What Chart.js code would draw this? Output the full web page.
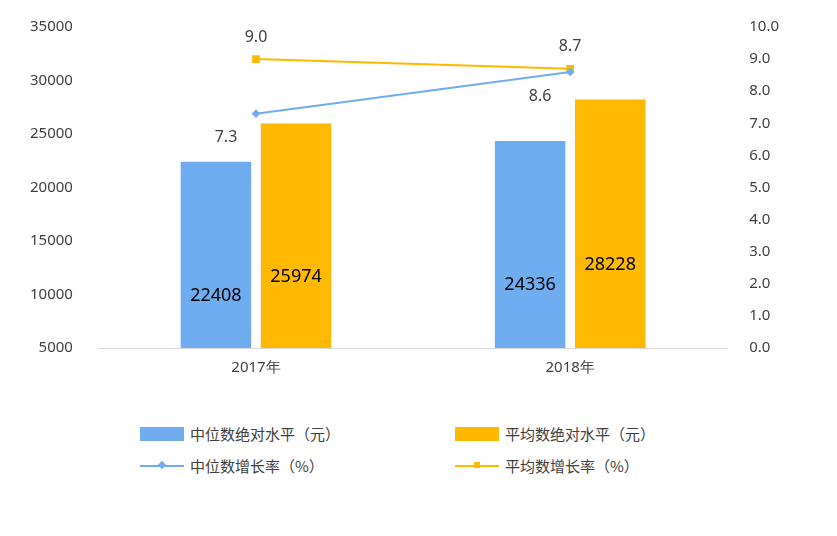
<!DOCTYPE html>
<html><head><meta charset="utf-8">
<script src="https://cdn.jsdelivr.net/npm/chart.js@4"></script>
<style>
body{margin:0;background:#fff;font-family:"Noto Sans CJK SC",sans-serif;}
#wrap{position:relative;width:837px;height:400px;}
.lg{position:absolute;font-size:15px;color:#404040;display:flex;align-items:center;}
.box{width:44px;height:14px;margin-right:6px;}
.ln{width:44px;height:2px;margin-right:6px;position:relative;}
.ln i{position:absolute;left:19px;top:-3px;width:6px;height:6px;}
</style></head><body>
<div id="wrap"><canvas id="c" width="837" height="400"></canvas></div>
<div class="lg" style="left:140px;top:423px"><div class="box" style="background:#70adf0"></div>中位数绝对水平（元）</div>
<div class="lg" style="left:455px;top:423px"><div class="box" style="background:#ffb900"></div>平均数绝对水平（元）</div>
<div class="lg" style="left:140px;top:455px"><div class="ln" style="background:#70adf0"><i style="background:#70adf0;transform:rotate(45deg)"></i></div>中位数增长率（%）</div>
<div class="lg" style="left:455px;top:455px"><div class="ln" style="background:#ffb900"><i style="background:#ffb900"></i></div>平均数增长率（%）</div>
<script>
const years = ["2017年", "2018年"];
const medianLevel = [22408, 24336];
const meanLevel = [25974, 28228];
const medianRate = [7.3, 8.6];
const meanRate = [9.0, 8.7];

const labelPlugin = {
  id: "labels",
  afterDatasetsDraw(ch){
    const ctx = ch.ctx;
    ctx.save();
    ctx.font = "18px 'Noto Sans', sans-serif";
    ctx.fillStyle = "#000";
    ctx.textAlign = "center";
    ctx.textBaseline = "middle";
    [0,1].forEach(d => {
      ch.getDatasetMeta(d).data.forEach((b,i) => {
        const v = ch.data.datasets[d].data[i];
        ctx.fillText(v, b.x, (b.y + b.base)/2 + 14);
      });
    });
    ctx.font = "16px 'Noto Sans', sans-serif";
    ctx.fillStyle = "#404040";
    ch.getDatasetMeta(2).data.forEach((p,i) => {
      ctx.fillText(medianRate[i].toFixed(1), p.x - 30, p.y + 24);
    });
    ch.getDatasetMeta(3).data.forEach((p,i) => {
      ctx.fillText(meanRate[i].toFixed(1), p.x, p.y - 22);
    });
    ctx.restore();
  }
};

const tickFont = {family:"'Noto Sans', sans-serif", size:15};
new Chart(document.getElementById("c"), {
  data:{
    labels: years,
    datasets:[
      {type:"bar", data:medianLevel, backgroundColor:"#70adf0", yAxisID:"y", barPercentage:0.88, categoryPercentage:0.51, order:2},
      {type:"bar", data:meanLevel, backgroundColor:"#ffb900", yAxisID:"y", barPercentage:0.88, categoryPercentage:0.51, order:2},
      {type:"line", data:medianRate, borderColor:"#70adf0", backgroundColor:"#70adf0", pointStyle:"rectRot", pointRadius:3, borderWidth:2, yAxisID:"y1", order:1},
      {type:"line", data:meanRate, borderColor:"#ffb900", backgroundColor:"#ffb900", pointStyle:"rect", pointRadius:4, borderWidth:2, yAxisID:"y1", order:1}
    ]
  },
  options:{
    responsive:false, animation:false,
    layout:{padding:{left:12, right:44, top:26, bottom:20}},
    plugins:{legend:{display:false}, tooltip:{enabled:false}},
    scales:{
      x:{grid:{display:false}, border:{color:"#d9d9d9"}, ticks:{color:"#404040", font:tickFont}},
      y:{min:5000, max:35000, ticks:{stepSize:5000, color:"#404040", font:tickFont, padding:18, callback:v=>String(v)}, grid:{display:false}, border:{display:false}},
      y1:{position:"right", min:0, max:10, ticks:{stepSize:1, color:"#404040", font:tickFont, padding:14, callback:v=>v.toFixed(1)}, grid:{display:false}, border:{display:false}}
    }
  },
  plugins:[labelPlugin]
});
</script>
</body></html>
